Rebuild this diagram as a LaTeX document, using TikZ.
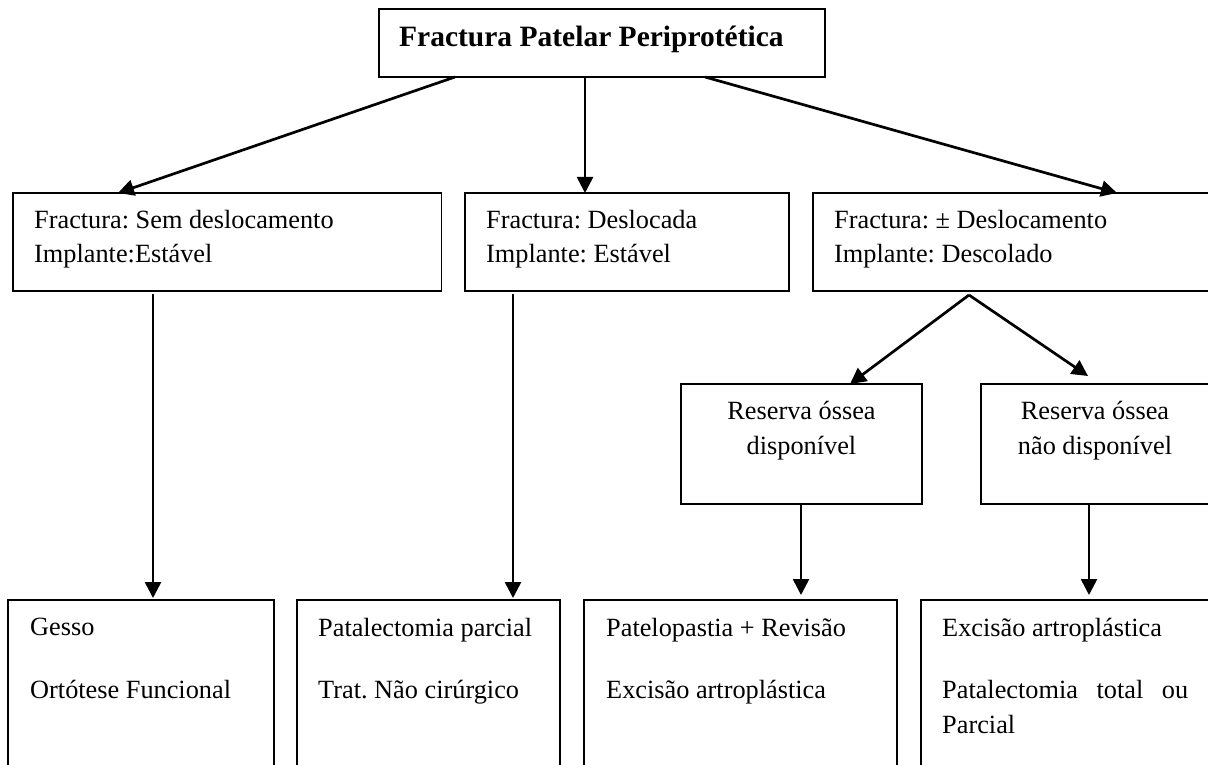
\documentclass[tikz,border=0pt]{standalone}
\usepackage{fontspec}
\setmainfont{Liberation Serif}
\usetikzlibrary{arrows.meta,calc}
\frenchspacing
\begin{document}
\begin{tikzpicture}[x=1pt,y=-1pt,
  box/.style={draw, line width=1.9pt, anchor=north west, inner sep=0pt, outer sep=0pt},
  txt/.style={anchor=base west, inner sep=0pt, font=\fontsize{26.3}{33}\selectfont},
  ctxt/.style={anchor=base, inner sep=0pt, font=\fontsize{26.3}{33}\selectfont},
  ttl/.style={anchor=base west, inner sep=0pt, font=\fontsize{29.5}{36}\selectfont\bfseries},
  arr/.style={line width=2.7pt, -{Triangle[length=16pt,width=16pt]}}]
\useasboundingbox (0,0) rectangle (1208,765);
\clip (0,0) rectangle (1208,765);

% boxes
\node[box, minimum width=446pt, minimum height=68pt] (top) at (379,9) {};
\node[box, minimum width=428.5pt, minimum height=98pt] (A) at (13,193) {};
\node[box, minimum width=324pt, minimum height=98pt] (B) at (465,193) {};
\node[box, minimum width=400pt, minimum height=98pt] (C) at (813,193) {};
\node[box, minimum width=241pt, minimum height=120pt] (D) at (681,384) {};
\node[box, minimum width=230pt, minimum height=120pt] (E) at (981,384) {};
\node[box, minimum width=266pt, minimum height=200pt] (F) at (8,600) {};
\node[box, minimum width=263pt, minimum height=200pt] (G) at (297,600) {};
\node[box, minimum width=313pt, minimum height=200pt] (H) at (584,600) {};
\node[box, minimum width=300pt, minimum height=200pt] (I) at (921,600) {};

% texts
\node[ttl] (ttitle) at (399,47) {Fractura Patelar Periprotética};
\node[txt] (a1) at (34,229) {Fractura: Sem deslocamento};
\node[txt] (a2) at (34,262) {Implante:Estável};
\node[txt] (b1) at (486,229) {Fractura: Deslocada};
\node[txt] (b2) at (486,262) {Implante: Estável};
\node[txt] (c1) at (834,229) {Fractura: ± Deslocamento};
\node[txt] (c2) at (834,262) {Implante: Descolado};
\node[ctxt] (d1) at (801.5,419) {Reserva óssea};
\node[ctxt] (d2) at (801.5,454) {disponível};
\node[ctxt] (e1) at (1095,419) {Reserva óssea};
\node[ctxt] (e2) at (1095,454) {não disponível};
\node[txt] (f1) at (30,635) {Gesso};
\node[txt] (f2) at (30,698) {Ortótese Funcional};
\node[txt] (g1) at (318,636) {Patalectomia parcial};
\node[txt] (g2) at (318,698) {Trat. Não cirúrgico};
\node[txt] (h1) at (606,636) {Patelopastia + Revisão};
\node[txt] (h2) at (606,698) {Excisão artroplástica};
\node[txt] (i1) at (942,636) {Excisão artroplástica};
\node[txt] (i2) at (942,698) {\makebox[246pt][s]{Patalectomia\hfill total\hfill ou}};
\node[txt] (i3) at (942,733) {Parcial};

% connectors
\coordinate (apex) at (969,295);
\coordinate (eTip) at (1088,376);
\draw[arr] ($(top.south west)+(76,0)$) -- ($(A.north west)+(105,0)$);
\draw[arr] ($(top.south west)+(206,0)$) -- ($(B.north west)+(120,0)$);
\draw[arr] ($(top.south west)+(326,0)$) -- ($(C.north west)+(304,0)$);
\draw[arr] ($(A.south west)+(140,3)$) -- ($(F.north west)+(145,-2)$);
\draw[arr] ($(B.south west)+(48,3)$) -- ($(G.north west)+(216,-2)$);
\draw[arr] (apex) -- ($(D.north west)+(169,0)$);
\draw[arr] (apex) -- (eTip);
\draw[arr] ($(D.south west)+(120,0)$) -- ($(H.north west)+(217,-5)$);
\draw[arr] ($(E.south west)+(108,0)$) -- ($(I.north west)+(168,-5)$);
\end{tikzpicture}
\end{document}
